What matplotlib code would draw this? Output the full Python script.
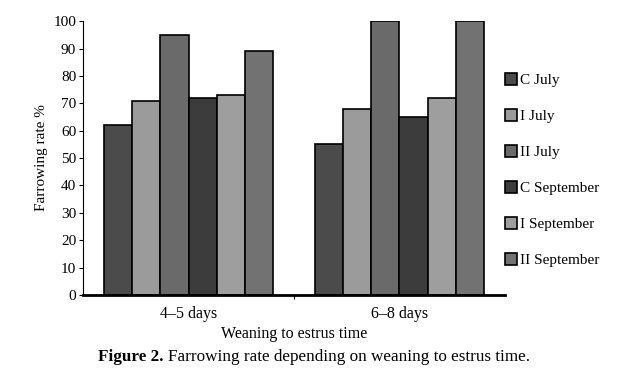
import numpy as np
import matplotlib
matplotlib.use('Agg')
import matplotlib.pyplot as plt

plt.rcParams['font.family'] = ['Liberation Serif', 'DejaVu Serif']

groups = ['4–5 days', '6–8 days']
series = ['C July', 'I July', 'II July', 'C September', 'I September', 'II September']
values = {
    'C July':       [62, 55],
    'I July':       [71, 68],
    'II July':      [95, 100],
    'C September':  [72, 65],
    'I September':  [73, 72],
    'II September': [89, 100],
}
colors = ['#4b4b4b', '#9b9b9b', '#6a6a6a', '#3c3c3c', '#9e9e9e', '#727272']

fig = plt.figure(figsize=(6.35, 3.77), dpi=100)
ax = fig.add_axes([0.131, 0.2175, 0.664, 0.7265])

x = np.arange(len(groups))
w = 0.8 / len(series)
for i, s in enumerate(series):
    ax.bar(x - 0.4 + w * (i + 0.5), values[s], width=w, color=colors[i],
           edgecolor='black', linewidth=1.2, label=s, zorder=2)

ax.set_xlim(-0.5, 1.5)
ax.set_ylim(0, 100)
ax.set_yticks(range(0, 101, 10))
ax.tick_params(axis='y', labelsize=11, length=3, width=0.8, pad=2)
ax.set_xticks(x)
ax.set_xticklabels(groups, fontsize=11.5)
ax.tick_params(axis='x', length=0, pad=8)
ax.set_xticks([0.5], minor=True)
ax.tick_params(axis='x', which='minor', length=3, width=0.8)

for side in ['top', 'right']:
    ax.spines[side].set_visible(False)
ax.spines['bottom'].set_linewidth(2)
ax.spines['left'].set_linewidth(0.8)

ax.set_ylabel('Farrowing rate %', fontsize=11, labelpad=4)
ax.set_xlabel('Weaning to estrus time', fontsize=11.5, labelpad=3)

ax.legend(loc='center left', bbox_to_anchor=(0.975, 0.455), frameon=False,
          fontsize=11, handlelength=0.8, handleheight=0.8, handletextpad=0.2,
          labelspacing=1.43, borderaxespad=0.3)

fig.text(0.155, 0.042, 'Figure 2.', fontsize=12.3, fontweight='bold')
fig.text(0.155 + 0.110, 0.042, 'Farrowing rate depending on weaning to estrus time.',
         fontsize=12.3)

fig.savefig('out.png', dpi=100)
